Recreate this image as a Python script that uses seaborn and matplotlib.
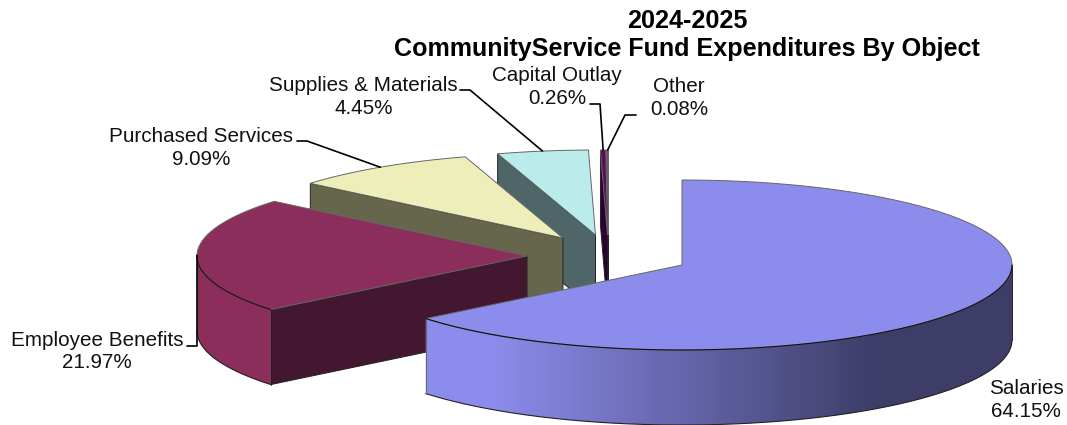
import numpy as np
import matplotlib
matplotlib.use("Agg")
import matplotlib.pyplot as plt
from matplotlib.patches import Polygon
import seaborn as sns

title = "2024-2025\nCommunityService Fund Expenditures By Object"
categories = ["Salaries", "Employee Benefits", "Purchased Services", "Supplies & Materials", "Capital Outlay", "Other"]
percents = [64.15, 21.97, 9.09, 4.45, 0.26, 0.08]
top_colors = ["#8c8cec", "#8b2e5c", "#eeeebb", "#bbecec", "#5c0a5c", "#8c3a4c"]
cut_colors = ["#46467a", "#431730", "#66664d", "#4f6668", "#2d0033", "#3a1a22"]

# exploded centre of each slice, in pixels
centres = [(682, 265), (527, 256), (563, 238), (595.5, 235), (607.5, 235), (608.5, 235)]
label_pos = [(1026, 400), (97, 351.5), (201, 148), (363.5, 97), (557, 87), (679, 98)]
# label side of each leader line, the other end sits on the slice
leaders = [None,
           [(187, 346), (197, 346)],
           [(297, 141), (307, 141)],
           [(460, 90), (470, 90)],
           [(590, 104), (600, 104)],
           [(636, 115), (625, 115)]]

A, B, DEPTH = 330, 85, 75
EDGE = "#222222"
BACK_EDGE = "#666666"


def rim(centre, a0, a1, n=160):
    # angles run clockwise from 12 o'clock, in degrees
    t = np.radians(np.linspace(a0, a1, n))
    return centre[0] + A * np.sin(t), centre[1] - B * np.cos(t)


sns.set_theme(style="white")
plt.rcParams["font.family"] = ["Liberation Sans", "DejaVu Sans"]

fig, ax = plt.subplots(figsize=(10.67, 4.25), dpi=100)
fig.subplots_adjust(0, 0, 1, 1)
ax.axis("off")

ends = np.cumsum(percents) * 3.6
starts = np.concatenate([[0], ends[:-1]])

side_cmap = sns.blend_palette(["#8c8cec", "#3d3d68"], 100, as_cmap=True)

# back slices first, salaries goes on top
for i in range(len(percents) - 1, -1, -1):
    c, a0, a1 = centres[i], starts[i], ends[i]
    z = i * -10

    # cut face on the start side of the slice, only seen for the left hand slices
    if i > 0:
        x, y = rim(c, a0, a0, 1)
        ax.fill([c[0], x[0], x[0], c[0]], [c[1], y[0], y[0] + DEPTH, c[1] + DEPTH],
                facecolor=cut_colors[i], edgecolor=EDGE, lw=0.7, zorder=z)

    # outer wall, the part of the rim in front of the centre
    lo, hi = max(a0, 90), min(a1, 270)
    if lo < hi:
        xs, ys = rim(c, lo, hi)
        wall = np.column_stack([np.r_[xs, xs[::-1]], np.r_[ys, ys[::-1] + DEPTH]])
        if i == 0:
            ramp = np.linspace(490, 880, 400)[None, :]
            im = ax.imshow(ramp, extent=(490, 880, 430, 240), cmap=side_cmap, aspect="auto",
                           interpolation="bilinear", zorder=z)
            # flat colour either side of the ramp
            ax.fill_between([420, 490], 240, 430, color=top_colors[0], lw=0, zorder=z)
            ax.fill_between([880, 1020], 240, 430, color="#3d3d68", lw=0, zorder=z)
            clip = Polygon(wall, closed=True, transform=ax.transData, fc="none", ec="none")
            ax.add_patch(clip)
            im.set_clip_path(clip)
            for art in ax.collections[-2:]:
                art.set_clip_path(clip)
        else:
            ax.fill(wall[:, 0], wall[:, 1], facecolor=top_colors[i], edgecolor="none", zorder=z)
        ax.plot(xs, ys + DEPTH, color=EDGE, lw=0.8, zorder=z)
        ax.plot([xs[0], xs[0]], [ys[0], ys[0] + DEPTH], color=EDGE, lw=0.7, zorder=z)
        ax.plot([xs[-1], xs[-1]], [ys[-1], ys[-1] + DEPTH], color=BACK_EDGE, lw=0.7, zorder=z)

    # top face
    xs, ys = rim(c, a0, a1)
    ax.fill(np.r_[c[0], xs], np.r_[c[1], ys], facecolor=top_colors[i],
            edgecolor=BACK_EDGE, lw=0.7, zorder=z + 1)
    if lo < hi:
        xf, yf = rim(c, lo, hi)
        ax.plot(xf, yf, color="#111111", lw=0.8, zorder=z + 2)

# labels and leader lines
for i, name in enumerate(categories):
    ax.text(label_pos[i][0], label_pos[i][1], f"{name}\n{percents[i]:.2f}%", ha="center", va="center",
            fontsize=14.9, color="#111111", linespacing=1.24, zorder=5)
    if leaders[i] is not None:
        mid = (starts[i] + ends[i]) / 2
        x, y = rim(centres[i], mid, mid, 1)
        pts = leaders[i] + [(x[0], y[0])]
        ax.plot([p[0] for p in pts], [p[1] for p in pts], color="black", lw=1.2, zorder=4)

ax.text(687, 35, title, ha="center", va="center", fontsize=18.05, fontweight="bold",
        color="black", linespacing=1.26, zorder=5)

ax.set_xlim(0, 1067)
ax.set_ylim(425, 0)

fig.savefig("out.png", dpi=100)
